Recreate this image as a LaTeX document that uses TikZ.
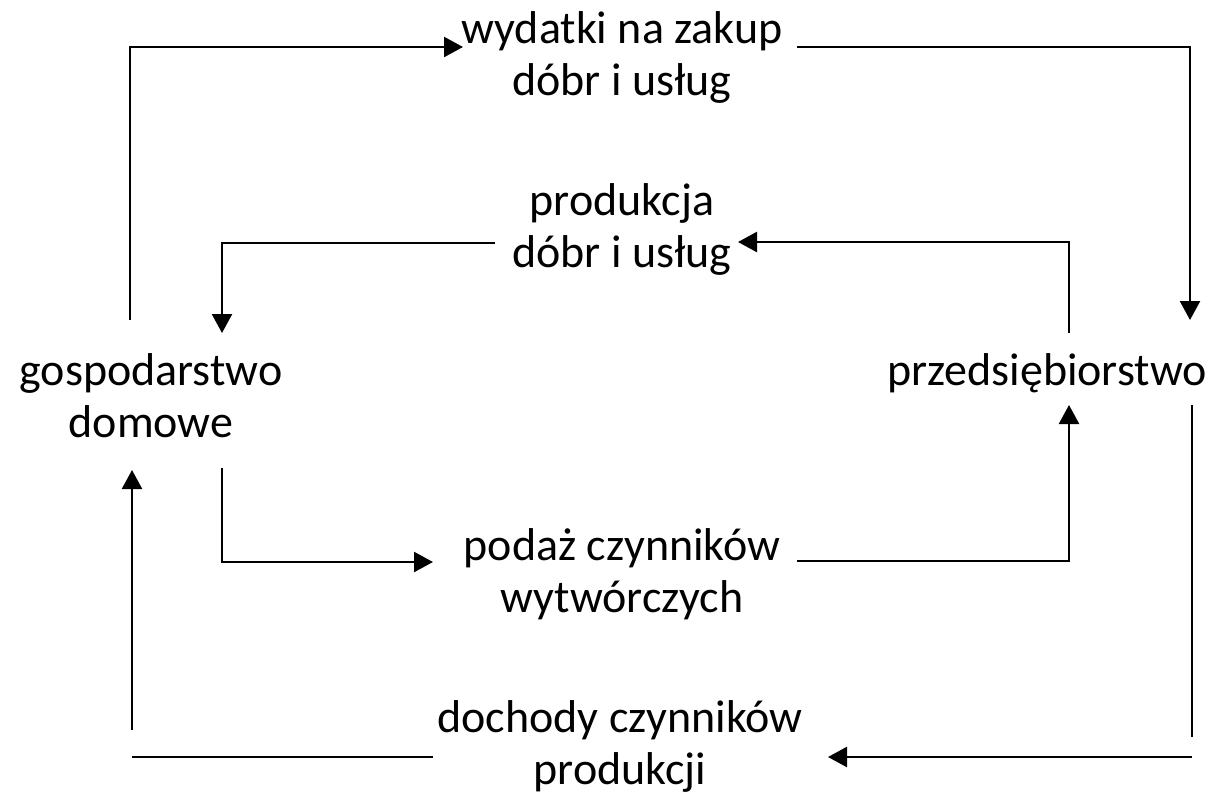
\documentclass[tikz,border=0pt]{standalone}
\usepackage{fontspec}
\setmainfont{Carlito}
\usetikzlibrary{arrows.meta}
\tikzset{
  lbl/.style={align=center, inner sep=0pt, anchor=base, font=\fontsize{46}{52}\selectfont},
  flow/.style={line width=2.4pt},
  arr/.style={line width=2.4pt, -{Triangle[width=20pt,length=19pt]}}
}
\begin{document}
\begin{tikzpicture}[x=1pt,y=-1pt]
\useasboundingbox (0,0) rectangle (1219,796);
% nodes (base anchor = baseline of the last line)
\node[lbl] (hh) at (151,437) {gospodarstwo\\domowe};
\node[lbl] (firm) at (1047,385) {przedsiębiorstwo};
\node[lbl] (spend) at (622,95) {wydatki na zakup\\dóbr i usług};
\node[lbl] (prod) at (622,267) {produkcja\\dóbr i usług};
\node[lbl] (supply) at (622,612) {podaż czynników\\wytwórczych};
\node[lbl] (income) at (620,784) {dochody czynników\\produkcji};
% coordinates
\coordinate (a1) at (130,320);
\coordinate (a2) at (463,47);
\coordinate (a3) at (797,47);
\coordinate (a4) at (1190,320);
\coordinate (b1) at (1069,333);
\coordinate (b2) at (738,242);
\coordinate (b3) at (495,243);
\coordinate (b4) at (222,333);
\coordinate (c1) at (222,468);
\coordinate (c2) at (433,562);
\coordinate (c3) at (797,561);
\coordinate (c4) at (1069,405);
\coordinate (d1) at (1192,405);
\coordinate (d2) at (1192,737);
\coordinate (d3) at (1192,757);
\coordinate (d4) at (828,757);
\coordinate (e1) at (433,757);
\coordinate (e2) at (132,757);
\coordinate (e3) at (132,730);
\coordinate (e4) at (132,470);
% connectors
\draw[arr] (a1) |- (a2);
\draw[arr] (a3) -| (a4);
\draw[arr] (b1) |- (b2);
\draw[arr] (b3) -| (b4);
\draw[arr] (c1) |- (c2);
\draw[arr] (c3) -| (c4);
\draw[flow] (d1) -- (d2);
\draw[arr] (d3) -- (d4);
\draw[flow] (e1) -- (e2);
\draw[arr] (e3) -- (e4);
\end{tikzpicture}
\end{document}
